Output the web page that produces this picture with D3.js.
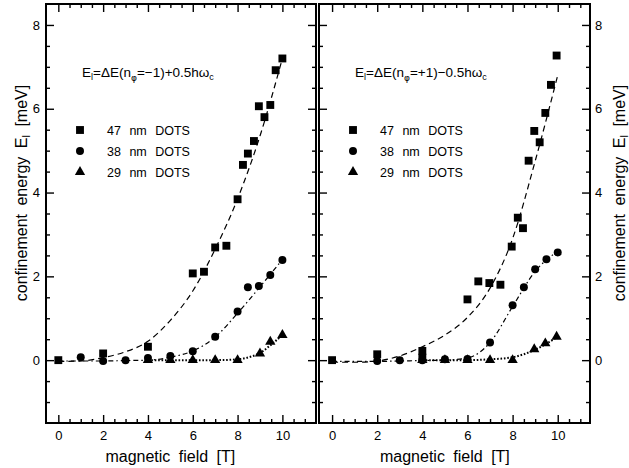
<!DOCTYPE html>
<html><head><meta charset="utf-8">
<script src="https://cdn.jsdelivr.net/npm/d3@7/dist/d3.min.js"></script>
<style>
body{margin:0;background:#fff;}
svg text{font-family:"Liberation Sans",Arial,Helvetica,sans-serif;fill:#000;}
</style></head>
<body><svg id="c" width="629" height="468"></svg>
<script>
// ---------- data ----------
const xTickLabels = [0, 2, 4, 6, 8, 10];
const yTickLabels = [0, 2, 4, 6, 8];
const legendLabels = ["47 nm DOTS", "38 nm DOTS", "29 nm DOTS"];

// left panel: E_l = ΔE(n=-1) + 0.5 hω
const L47x = [0, 2, 4, 6, 6.5, 7, 7.5, 8, 8.24, 8.46, 8.73, 8.95, 9.2, 9.46, 9.7, 10];
const L47y = [0, 0.16, 0.32, 2.07, 2.11, 2.69, 2.73, 3.84, 4.66, 4.93, 5.23, 6.06, 5.8, 6.09, 6.92, 7.2];
const L38x = [1, 2, 3, 4, 5, 6, 7, 8, 8.46, 8.95, 9.46, 10];
const L38y = [0.07, -0.02, 0, 0.05, 0.1, 0.21, 0.56, 1.16, 1.74, 1.77, 2.03, 2.39];
const L29x = [4, 5, 6, 7, 8, 9, 9.46, 10];
const L29y = [0, 0, 0, 0, 0, 0.16, 0.44, 0.6];
// fitted curves
const L47fx = [0, 1, 2, 3, 4, 5, 6, 7, 8, 9, 10];
const L47fy = [-0.03, -0.02, 0.06, 0.2, 0.45, 0.95, 1.65, 2.65, 3.85, 5.35, 7.2];
const L38fx = [0, 1, 2, 3, 4, 5, 6, 7, 8, 9, 10];
const L38fy = [-0.02, -0.02, -0.02, -0.01, 0, 0.07, 0.22, 0.55, 1.12, 1.75, 2.4];
const L29fx = [4, 5, 6, 7, 8, 8.5, 9, 9.5, 10];
const L29fy = [0, 0, 0, 0, 0.02, 0.07, 0.17, 0.37, 0.6];

// right panel: E_l = ΔE(n=+1) - 0.5 hω
const R47x = [0, 2, 4, 4, 6, 6.48, 6.97, 7.46, 7.96, 8.23, 8.46, 8.71, 8.96, 9.2, 9.45, 9.7, 9.95];
const R47y = [0, 0.14, 0.22, 0.06, 1.45, 1.88, 1.84, 1.8, 2.71, 3.4, 3.15, 4.76, 5.47, 5.2, 5.9, 6.57, 7.27];
const R38x = [2, 3, 4, 5, 6, 7, 8, 8.5, 9, 9.5, 10];
const R38y = [-0.02, 0, 0, 0.02, 0.03, 0.42, 1.31, 1.74, 2.17, 2.41, 2.57];
const R29x = [4, 5, 6, 7, 8, 8.96, 9.45, 9.95];
const R29y = [0, 0, 0, 0, 0, 0.26, 0.4, 0.56];
const R47fx = [0, 1, 2, 3, 4, 5, 6, 7, 8, 9, 10];
const R47fy = [-0.05, -0.05, -0.02, 0.1, 0.32, 0.6, 1.02, 1.72, 2.9, 4.75, 6.8];
const R38fx = [0, 1, 2, 3, 4, 5, 6, 7, 8, 9, 10];
const R38fy = [-0.03, -0.03, -0.03, -0.02, -0.01, 0, 0.05, 0.42, 1.28, 2.12, 2.6];
const R29fx = [4, 5, 6, 7, 8, 9, 10];
const R29fy = [0, 0, 0, 0.02, 0.07, 0.25, 0.56];

// ---------- drawing ----------
const svg = d3.select("#c");
const zip = (xs, ys) => xs.map((x, i) => [x, ys[i]]);
const y = d3.scaleLinear().domain([-1.5, 8.5]).range([423, 4]);

function panel(opt) {
  const x = d3.scaleLinear().domain(opt.xdom).range(opt.xr);
  const g = svg.append("g");
  const yMinor = d3.range(-1, 8.5, 0.5).filter(v => !yTickLabels.includes(v));
  const xMinor = d3.range(0, 11.5, 0.5).filter(v => !xTickLabels.includes(v));

  const addAxis = (axis, tr, major, minor, labels) => {
    const a1 = g.append("g").attr("transform", tr)
      .call(axis.tickValues(major).tickSize(-8).tickFormat(labels ? d3.format("d") : ""));
    const a2 = g.append("g").attr("transform", tr)
      .call(axis.tickValues(minor).tickSize(-4).tickFormat(""));
    [a1, a2].forEach(a => {
      a.select(".domain").remove();
      a.selectAll(".tick line").attr("stroke", "#000").attr("stroke-width", 1.4);
    });
    return a1;
  };
  const bx = addAxis(d3.axisBottom(x), `translate(0,${y.range()[0]})`, xTickLabels, xMinor, true);
  bx.selectAll("text").attr("font-size", 13).attr("y", 8).attr("dy", "0.71em");
  addAxis(d3.axisTop(x), `translate(0,${y.range()[1]})`, xTickLabels, xMinor, false);
  const ly = addAxis(d3.axisLeft(y), `translate(${opt.xr[0]},0)`, yTickLabels, yMinor, opt.labelsLeft);
  const ry = addAxis(d3.axisRight(y).tickSize(-8), `translate(${opt.xr[1]},0)`, yTickLabels, yMinor, !opt.labelsLeft);
  if (opt.labelsLeft) ly.selectAll("text").attr("font-size", 13).attr("x", -6);
  else ry.selectAll("text").attr("font-size", 13).attr("x", 5);

  // frame
  g.append("rect").attr("x", opt.xr[0]).attr("y", y.range()[1])
    .attr("width", opt.xr[1] - opt.xr[0]).attr("height", y.range()[0] - y.range()[1])
    .attr("fill", "none").attr("stroke", "#000").attr("stroke-width", 2);

  const line = d3.line().x(d => x(d[0])).y(d => y(d[1])).curve(d3.curveMonotoneX);
  const styles = [
    {dash: "6,4", w: 1.2},
    {dash: "5,3,1.5,3", w: 1.2},
    {dash: "1.6,1.8", w: 2}
  ];
  opt.fits.forEach((f, i) => {
    g.append("path").attr("d", line(f)).attr("fill", "none").attr("stroke", "#000")
      .attr("stroke-width", styles[i].w).attr("stroke-dasharray", styles[i].dash);
  });
  const syms = [d3.symbol().type(d3.symbolSquare).size(62),
                d3.symbol().type(d3.symbolCircle).size(50),
                d3.symbol().type(d3.symbolTriangle).size(46)];
  opt.pts.forEach((p, i) => {
    g.selectAll(null).data(p).enter().append("path")
      .attr("d", syms[i]).attr("transform", d => `translate(${x(d[0])},${y(d[1])})`)
      .attr("fill", "#000");
  });

  // legend
  const lx = opt.xr[0] + opt.legDx;
  legendLabels.forEach((t, i) => {
    const yy = 130 + i * 21;
    g.append("path").attr("d", syms[i]).attr("transform", `translate(${lx},${yy})`).attr("fill", "#000");
    g.append("text").attr("x", lx + 27).attr("y", yy + 4.5).attr("font-size", 12.5)
      .attr("word-spacing", "5px").text(t);
  });

  // formula
  const ft = g.append("text").attr("x", opt.xr[0] + opt.legDx + 2).attr("y", 77).attr("font-size", 13.5);
  ft.append("tspan").text("E");
  ft.append("tspan").attr("font-size", 9).attr("dy", 3).text("l");
  ft.append("tspan").attr("dy", -3).text("=ΔE(n");
  ft.append("tspan").attr("font-size", 9).attr("dy", 4)
    .style("font-family", "'DejaVu Sans', sans-serif").style("fill", "#000").text("\u03C6");
  ft.append("tspan").attr("dy", -4).text(opt.formulaMid);
  ft.append("tspan").attr("font-size", 9).attr("dy", 3).text("c");

  // x title
  g.append("text").attr("x", (x(0) + x(10)) / 2).attr("y", 462).attr("text-anchor", "middle")
    .attr("font-size", 16).attr("word-spacing", "4px").text("magnetic field [T]");
}

panel({xdom: [-0.55, 11.5], xr: [46, 316], labelsLeft: true, legDx: 34,
  formulaMid: "=−1)+0.5hω",
  pts: [zip(L47x, L47y), zip(L38x, L38y), zip(L29x, L29y)],
  fits: [zip(L47fx, L47fy), zip(L38fx, L38fy), zip(L29fx, L29fy)]});
panel({xdom: [-0.58, 11.43], xr: [319, 590], labelsLeft: false, legDx: 34,
  formulaMid: "=+1)−0.5hω",
  pts: [zip(R47x, R47y), zip(R38x, R38y), zip(R29x, R29y)],
  fits: [zip(R47fx, R47fy), zip(R38fx, R38fy), zip(R29fx, R29fy)]});

// y titles
function yTitle(cx) {
  const t = svg.append("text").attr("transform", `translate(${cx},193) rotate(-90)`)
    .attr("text-anchor", "middle").attr("font-size", 16).attr("word-spacing", "4px");
  t.append("tspan").text("confinement energy E");
  t.append("tspan").attr("font-size", 11).attr("dy", 3).text("l");
  t.append("tspan").attr("dy", -3).text(" [meV]");
}
yTitle(27);
yTitle(625);
</script></body></html>
